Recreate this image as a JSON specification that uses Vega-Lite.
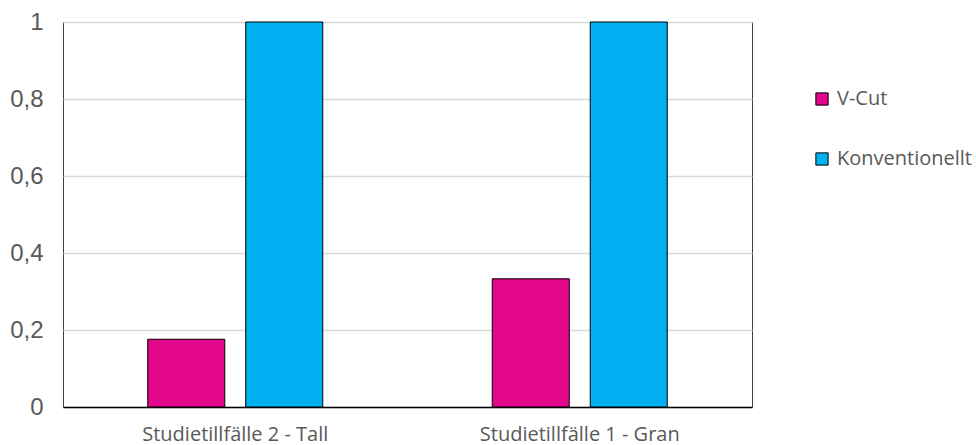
{
  "$schema": "https://vega.github.io/schema/vega-lite/v6.json",
  "width": 689,
  "height": 385,
  "autosize": {"type": "none"},
  "padding": {"left": 63, "top": 22, "right": 224, "bottom": 38},
  "background": "white",
  "config": {
    "view": {"stroke": "#404040", "strokeWidth": 1},
    "axis": {"gridColor": "#d9d9d9", "gridWidth": 1.5}
  },
  "data": {
    "values": [
      {"tillfalle": "Studietillfälle 2 - Tall", "metod": "V-Cut", "andel": 0.176},
      {"tillfalle": "Studietillfälle 2 - Tall", "metod": "Konventionellt", "andel": 1},
      {"tillfalle": "Studietillfälle 1 - Gran", "metod": "V-Cut", "andel": 0.333},
      {"tillfalle": "Studietillfälle 1 - Gran", "metod": "Konventionellt", "andel": 1}
    ]
  },
  "mark": {"type": "bar", "stroke": "#000000", "strokeWidth": 1},
  "encoding": {
    "x": {
      "field": "tillfalle",
      "type": "nominal",
      "sort": null,
      "title": null,
      "scale": {"paddingInner": 0, "paddingOuter": 0},
      "axis": {
        "labelAngle": 0,
        "labelFont": "Open Sans",
        "labelFontSize": 20,
        "labelColor": "#595959",
        "labelPadding": 17,
        "labelLimit": 400,
        "ticks": false,
        "domainColor": "#000000",
        "domainWidth": 1.5
      }
    },
    "xOffset": {
      "field": "metod",
      "type": "nominal",
      "sort": ["V-Cut", "Konventionellt"],
      "scale": {"paddingInner": 0.214, "paddingOuter": 0.865}
    },
    "y": {
      "field": "andel",
      "type": "quantitative",
      "title": null,
      "scale": {"domain": [0, 1], "nice": false},
      "axis": {
        "values": [0, 0.2, 0.4, 0.6, 0.8, 1],
        "format": "~g",
        "labelExpr": "replace(datum.label, '.', ',')",
        "labelFont": "Liberation Sans",
        "labelFontSize": 24,
        "labelColor": "#595959",
        "labelPadding": 20,
        "ticks": false,
        "domain": false,
        "grid": true
      }
    },
    "color": {
      "field": "metod",
      "type": "nominal",
      "sort": ["V-Cut", "Konventionellt"],
      "scale": {"domain": ["V-Cut", "Konventionellt"], "range": ["#E2078B", "#00B0F0"]},
      "legend": {
        "title": null,
        "orient": "none",
        "legendX": 749,
        "legendY": 67,
        "symbolType": "square",
        "symbolSize": 150,
        "symbolStrokeColor": "#000000",
        "symbolStrokeWidth": 1,
        "labelFont": "Open Sans",
        "labelFontSize": 20,
        "labelColor": "#595959",
        "labelOffset": 5,
        "labelLimit": 300,
        "rowPadding": 40
      }
    }
  }
}
